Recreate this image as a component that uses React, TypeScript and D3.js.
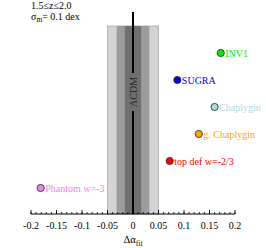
import React from 'react'
import * as d3 from 'd3'

const models = ['INV1', 'SUGRA', 'Chaplygin', 'g. Chaplygin', 'top def w=-2/3', 'Phantom w=-3']
const offsets = [0.172, 0.087, 0.160, 0.129, 0.072, -0.181]
const colors = ['#00ee00', '#0000ee', '#add8e6', '#ffa500', '#ff0000', '#ee82ee']
const sigmaBands = [0.05, 0.032, 0.016]
const bandFills = ['#d3d3d3', '#9c9c9c', '#707070']
const majorTicks = [-0.2, -0.15, -0.1, -0.05, 0, 0.05, 0.1, 0.15, 0.2]

const font = '"Liberation Serif", "Times New Roman", serif'

export default function App() {
  const width = 266
  const height = 248
  const axisY = 214
  const bandTop = 26

  const x = d3.scaleLinear().domain([-0.2, 0.2]).range([31, 235])
  const y = d3.scalePoint<string>().domain(models).range([53, 188])
  const minorTicks = d3.range(-20, 21).map(i => i / 100)

  const fmt = (v: number) => (v === 0 ? '0' : String(+v.toFixed(2)).replace(/^(-?)0\./, '$10.'))

  return (
    <svg width={width} height={height} style={{ position: 'absolute', left: 0, top: 0 }} fontFamily={font}>
      <rect width={width} height={height} fill="#fff" />

      {sigmaBands.map((s, i) => (
        <rect key={`band_${i}`} x={x(-s)} y={bandTop} width={x(s) - x(-s)} height={axisY - bandTop}
          fill={bandFills[i]} stroke={i === 0 ? '#a8a8a8' : 'none'} strokeWidth={0.8} />
      ))}

      <line x1={x(0)} x2={x(0)} y1={12} y2={axisY} stroke="#000" strokeWidth={2} />
      <rect x={x(0) - 5} y={73} width={10} height={38} fill={bandFills[2]} />
      <text transform={`translate(${x(0) + 3.5},92) rotate(-90)`} textAnchor="middle" fontSize={10} fill="#2a2a2a">ΛCDM</text>

      <line x1={x(-0.2)} x2={x(0.2)} y1={axisY} y2={axisY} stroke="#000" strokeWidth={1.2} />
      {minorTicks.map((t, i) => (
        <line key={`mt_${i}`} x1={x(t)} x2={x(t)} y1={axisY} y2={axisY - 2} stroke="#000" strokeWidth={0.8} />
      ))}
      {majorTicks.map((t, i) => (
        <g key={`t_${i}`}>
          <line x1={x(t)} x2={x(t)} y1={axisY} y2={axisY - 4} stroke="#000" strokeWidth={0.9} />
          <text x={x(t)} y={228.5} textAnchor="middle" fontSize={10} fill="#000">{fmt(t)}</text>
        </g>
      ))}
      <text x={x(0)} y={243} textAnchor="middle" fontSize={10.5} fill="#000">
        Δα<tspan fontSize={7.5} dy={2.5}>fit</tspan>
      </text>

      <text x={31} y={8.5} fontSize={10} fill="#000">1.5≤z≤2.0</text>
      <text x={31} y={20} fontSize={10} fill="#000">
        σ<tspan fontSize={7.5} dy={2}>m</tspan><tspan dy={-2}>= 0.1 dex</tspan>
      </text>

      {models.map((m, i) => (
        <g key={m}>
          <circle cx={x(offsets[i])} cy={y(m)} r={3.6} fill={colors[i]} stroke="#333" strokeWidth={0.9} />
          <text x={x(offsets[i]) + 4.5} y={(y(m) ?? 0) + 3.5} fontSize={10} fill={colors[i]}>{m}</text>
        </g>
      ))}
    </svg>
  )
}
